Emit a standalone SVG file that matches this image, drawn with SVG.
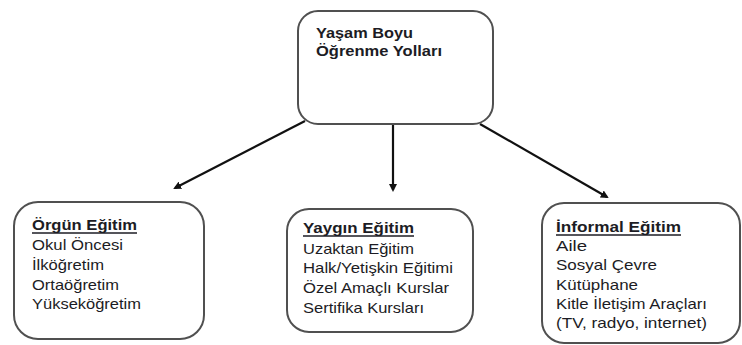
<svg xmlns="http://www.w3.org/2000/svg" width="742" height="345" viewBox="0 0 742 345">
<style>
.box{fill:#fff;stroke:#505050;stroke-width:2}
.t{font-family:"Liberation Sans",Arial,sans-serif;font-size:14.6px;fill:#1c1c24}
.b{font-weight:bold}
.ul{stroke:#1c1c24;stroke-width:1.6}
.conn{stroke:#111;stroke-width:2.2;fill:none}
</style>
<defs>
<marker id="ah" markerWidth="8" markerHeight="8" refX="6" refY="4" orient="auto" markerUnits="userSpaceOnUse">
<path d="M0,0 L8,4 L0,8 Z" fill="#111"/>
</marker>
</defs>
<rect width="742" height="345" fill="#fff"/>
<g id="connectors">
<line class="conn" x1="305" y1="121" x2="175" y2="188" marker-end="url(#ah)"/>
<line class="conn" x1="393" y1="124" x2="393" y2="190" marker-end="url(#ah)"/>
<line class="conn" x1="480" y1="124" x2="607" y2="197" marker-end="url(#ah)"/>
</g>
<g id="root">
<rect class="box" x="298" y="11" width="195" height="113" rx="20"/>
<text class="t b" x="316" y="38" textLength="97" lengthAdjust="spacingAndGlyphs">Yaşam Boyu</text>
<text class="t b" x="316" y="56" textLength="126" lengthAdjust="spacingAndGlyphs">Öğrenme Yolları</text>
</g>
<g id="orgun">
<rect class="box" x="14" y="202" width="190" height="137" rx="24"/>
<text class="t b" x="32" y="230" textLength="105" lengthAdjust="spacingAndGlyphs">Örgün Eğitim</text>
<line class="ul" x1="32" y1="233" x2="137" y2="233"/>
<text class="t" x="32" y="250" textLength="91" lengthAdjust="spacingAndGlyphs">Okul Öncesi</text>
<text class="t" x="32" y="270" textLength="72" lengthAdjust="spacingAndGlyphs">İlköğretim</text>
<text class="t" x="32" y="290" textLength="87" lengthAdjust="spacingAndGlyphs">Ortaöğretim</text>
<text class="t" x="32" y="309" textLength="109" lengthAdjust="spacingAndGlyphs">Yükseköğretim</text>
</g>
<g id="yaygin">
<rect class="box" x="287" y="209" width="186" height="123" rx="22"/>
<text class="t b" x="303" y="233" textLength="111" lengthAdjust="spacingAndGlyphs">Yaygın Eğitim</text>
<line class="ul" x1="303" y1="236" x2="414" y2="236"/>
<text class="t" x="303" y="254" textLength="111" lengthAdjust="spacingAndGlyphs">Uzaktan Eğitim</text>
<text class="t" x="303" y="273" textLength="150" lengthAdjust="spacingAndGlyphs">Halk/Yetişkin Eğitimi</text>
<text class="t" x="303" y="293" textLength="146" lengthAdjust="spacingAndGlyphs">Özel Amaçlı Kurslar</text>
<text class="t" x="303" y="313" textLength="121" lengthAdjust="spacingAndGlyphs">Sertifika Kursları</text>
</g>
<g id="informal">
<rect class="box" x="542" y="203" width="198" height="140" rx="22"/>
<text class="t b" x="556" y="232" textLength="125" lengthAdjust="spacingAndGlyphs">İnformal Eğitim</text>
<line class="ul" x1="556" y1="235" x2="681" y2="235"/>
<text class="t" x="556" y="251" textLength="31" lengthAdjust="spacingAndGlyphs">Aile</text>
<text class="t" x="556" y="270" textLength="101" lengthAdjust="spacingAndGlyphs">Sosyal Çevre</text>
<text class="t" x="556" y="290" textLength="82" lengthAdjust="spacingAndGlyphs">Kütüphane</text>
<text class="t" x="556" y="309" textLength="151" lengthAdjust="spacingAndGlyphs">Kitle İletişim Araçları</text>
<text class="t" x="556" y="328" textLength="151" lengthAdjust="spacingAndGlyphs">(TV, radyo, internet)</text>
</g>
</svg>
